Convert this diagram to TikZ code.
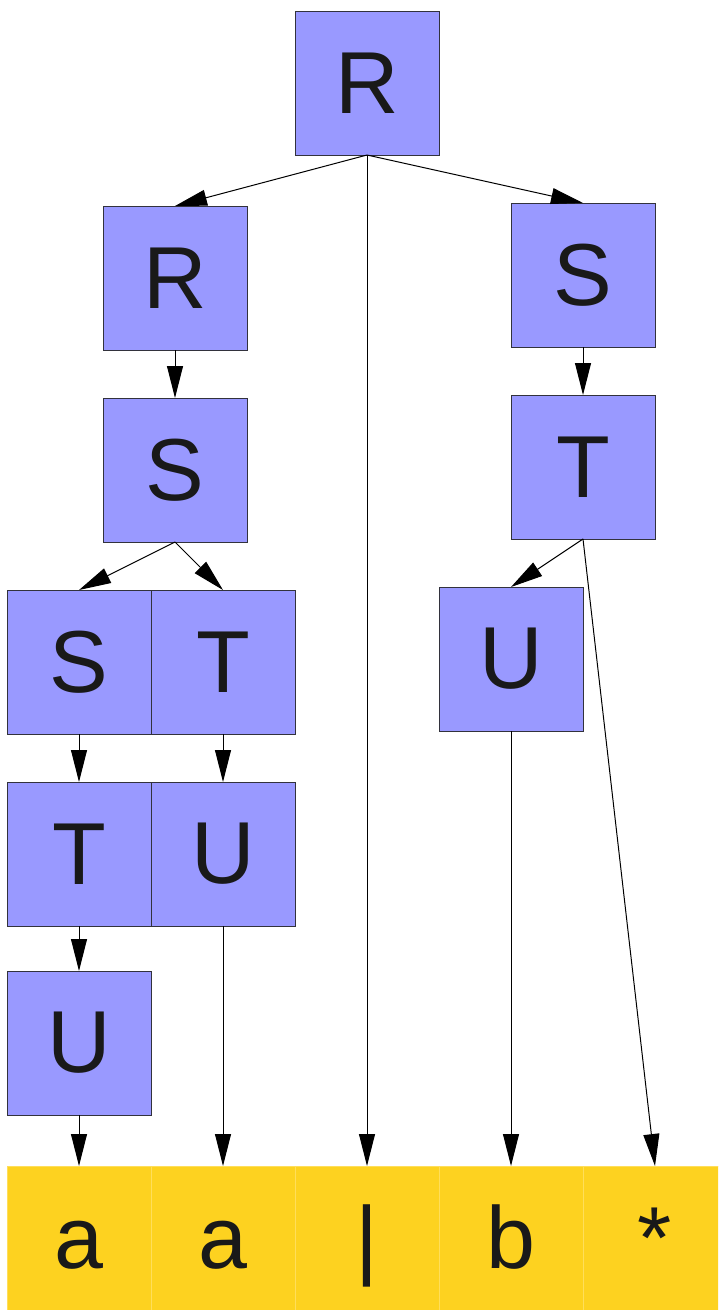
\documentclass[tikz,border=0pt]{standalone}
\usepackage{fontspec}
\setmainfont{Liberation Sans}
\usetikzlibrary{arrows.meta}
\definecolor{boxblue}{RGB}{153,153,255}
\definecolor{boxedge}{RGB}{50,50,60}
\definecolor{tokfill}{RGB}{253,210,32}
\definecolor{tokedge}{RGB}{255,222,90}
\tikzset{
  sym/.style={rectangle, draw=boxedge, line width=1pt, fill=boxblue, minimum size=144pt, inner sep=0pt, outer sep=0pt, font=\fontsize{88}{88}\selectfont, text=black!90},
  tok/.style={rectangle, draw=tokedge, line width=0.8pt, fill=tokfill, minimum size=144pt, inner sep=0pt, outer sep=0pt, font=\fontsize{88}{88}\selectfont, text=black!90, text height=60pt, text depth=0pt},
  edge/.style={line width=1pt, -{Triangle[length=32pt,width=16pt]}}
}
\begin{document}
\begin{tikzpicture}[x=1pt,y=-1pt]
\useasboundingbox (0,0) rectangle (718,1310);
\clip (0,0) rectangle (718,1310);
\node[sym] (r0) at (367,83) {R};
\node[sym] (r1) at (175,278) {R};
\node[sym] (s2) at (583,275) {S};
\node[sym] (s1) at (175,470) {S};
\node[sym] (t2) at (583,467) {T};
\node[sym] (s3) at (79,662) {S};
\node[sym] (t3) at (223,662) {T};
\node[sym] (u2) at (511,659) {U};
\node[sym] (t4) at (79,854) {T};
\node[sym] (u3) at (223,854) {U};
\node[sym] (u4) at (79,1043) {U};
\node[tok] (a1) at (79,1238) {a};
\node[tok] (a2) at (223,1238) {a};
\node[tok] (bar) at (367,1238) {|};
\node[tok] (b) at (511,1238) {b};
\node[tok] (star) at (655,1238) {*};
\draw[edge] (r0.south) -- (r1.north);
\draw[edge] (r0.south) -- (s2.north);
\draw[edge] (r0.south) -- (bar.north);
\draw[edge] (r1.south) -- (s1.north);
\draw[edge] (s1.south) -- (s3.north);
\draw[edge] (s1.south) -- (t3.north);
\draw[edge] (s2.south) -- (t2.north);
\draw[edge] (t2.south) -- (u2.north);
\draw[edge] (t2.south) -- (star.north);
\draw[edge] (s3.south) -- (t4.north);
\draw[edge] (t4.south) -- (u4.north);
\draw[edge] (u4.south) -- (a1.north);
\draw[edge] (t3.south) -- (u3.north);
\draw[edge] (u3.south) -- (a2.north);
\draw[edge] (u2.south) -- (b.north);
\end{tikzpicture}
\end{document}
